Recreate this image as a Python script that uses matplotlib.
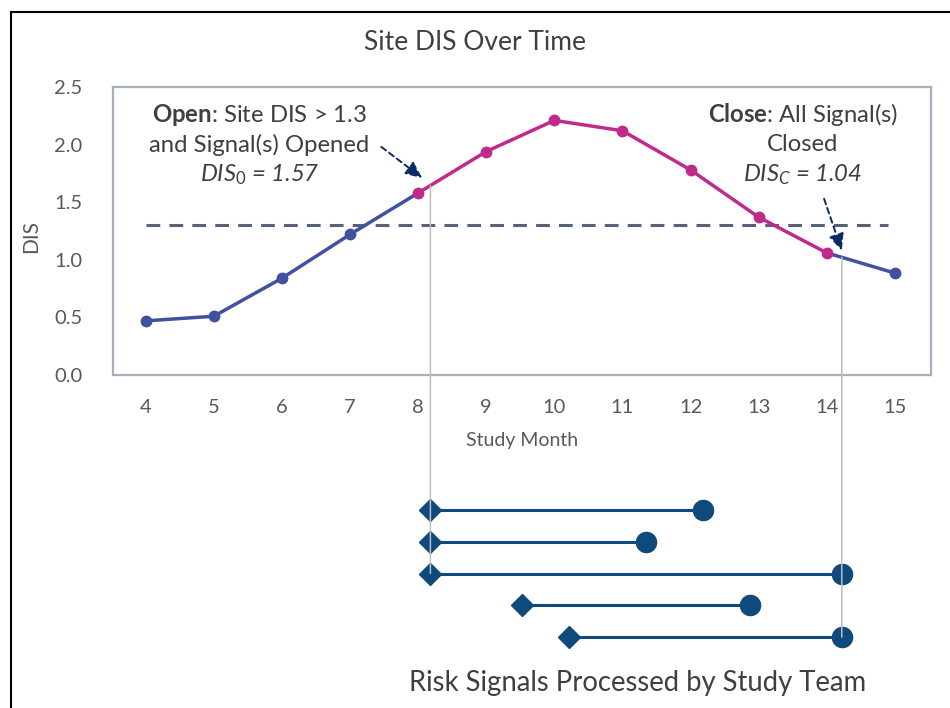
import numpy as np
import matplotlib
matplotlib.use("Agg")
import matplotlib.pyplot as plt
from matplotlib.lines import Line2D
from matplotlib.patches import ConnectionPatch

plt.rcParams['font.family'] = ['Lato', 'DejaVu Sans']
plt.rcParams['mathtext.fontset'] = 'custom'
plt.rcParams['mathtext.rm'] = 'Lato'
plt.rcParams['mathtext.it'] = 'Lato:italic'
plt.rcParams['mathtext.bf'] = 'Lato:bold'
plt.rcParams['mathtext.default'] = 'it'

# ---- data ----
months = [4, 5, 6, 7, 8, 9, 10, 11, 12, 13, 14, 15]
dis = [0.47, 0.51, 0.84, 1.22, 1.58, 1.94, 2.21, 2.12, 1.78, 1.37, 1.06, 0.885]
threshold = 1.3
open_month = 8
close_month = 14
open_x = 8.18
close_x = 14.22
signal_start = [8.18, 8.18, 8.18, 9.53, 10.22]
signal_end = [12.18, 11.34, 14.22, 12.87, 14.22]
signal_rows = [1, 2, 3, 4, 5]

BLUE = '#4151A0'
MAG = '#C02A8B'
NAVY = '#0E4A7C'
GRAY = '#595959'
TXT = '#3F3F3F'

W, H = 950, 708
fig = plt.figure(figsize=(W / 100, H / 100), dpi=100)

# main axes
ax = fig.add_axes([113 / W, (H - 375) / H, (931 - 113) / W, (375 - 87) / H])
ax.set_xlim(3.52, 15.53)
ax.set_ylim(0, 2.5)

m = np.array(months)
d = np.array(dis)
seg1 = m <= open_month
seg2 = (m >= open_month) & (m <= close_month)
seg3 = m >= close_month
ax.plot(m[seg1], d[seg1], color=BLUE, lw=2.5, solid_capstyle='round', zorder=3)
ax.plot(m[seg2], d[seg2], color=MAG, lw=2.5, solid_capstyle='round', zorder=3)
ax.plot(m[seg3], d[seg3], color=BLUE, lw=2.5, solid_capstyle='round', zorder=3)
blue_pts = (m < open_month) | (m > close_month)
ax.plot(m[blue_pts], d[blue_pts], 'o', color=BLUE, ms=7.5, zorder=4)
ax.plot(m[~blue_pts], d[~blue_pts], 'o', color=MAG, ms=7.5, zorder=4)

ax.plot([4, 14.9], [threshold, threshold], color='#56627A', lw=2.2,
        dashes=(4.5, 3.0), zorder=2)

for s in ax.spines.values():
    s.set_color('#A9AEBE')
    s.set_linewidth(1.6)
ax.set_xticks(months)
ax.set_yticks([0, 0.5, 1.0, 1.5, 2.0, 2.5])
ax.set_yticklabels(['0.0', '0.5', '1.0', '1.5', '2.0', '2.5'])
ax.tick_params(length=0, colors=GRAY, labelsize=14.5)
ax.tick_params(axis='x', pad=17)
ax.tick_params(axis='y', pad=22)
ax.set_xlabel('Study Month', color=GRAY, fontsize=14, labelpad=12)
ax.set_ylabel('DIS', color=GRAY, fontsize=15)
ax.yaxis.set_label_coords(-72 / 818, 0.48)

# annotations
fs = 17.2
ax.text(5.67, 2.26, r'$\mathbf{Open}$: Site DIS > 1.3', ha='center', va='center',
        fontsize=fs, color=TXT)
ax.text(5.67, 2.0, 'and Signal(s) Opened', ha='center', va='center',
        fontsize=fs, color=TXT)
ax.text(5.67, 1.74, r'$DIS_0$ = 1.57', ha='center', va='center',
        fontsize=fs, color=TXT, style='italic')
ax.text(13.65, 2.26, r'$\mathbf{Close}$: All Signal(s)', ha='center', va='center',
        fontsize=fs, color=TXT)
ax.text(13.65, 2.0, 'Closed', ha='center', va='center', fontsize=fs, color=TXT)
ax.text(13.65, 1.74, r'$DIS_C$ = 1.04', ha='center', va='center',
        fontsize=fs, color=TXT, style='italic')

ap = dict(arrowstyle='-|>,head_length=1.0,head_width=0.45', linestyle=(0, (3, 2)),
          color='#0B2A66', lw=1.4, shrinkA=0, shrinkB=0)
ax.annotate('', xy=(8.06, 1.71), xytext=(7.46, 1.98), arrowprops=ap, zorder=5)
ax.annotate('', xy=(14.22, 1.08), xytext=(13.96, 1.53), arrowprops=ap, zorder=5)

fig.suptitle('Site DIS Over Time', x=475 / W, y=(H - 42) / H, va='center',
             fontsize=19, color=TXT)

# gantt axes
gx = fig.add_axes([113 / W, (H - 653) / H, (931 - 113) / W, (653 - 494) / H])
gx.set_xlim(ax.get_xlim())
gx.set_ylim(5.5, 0.5)
gx.axis('off')
for s0, s1, r in zip(signal_start, signal_end, signal_rows):
    gx.plot([s0, s1], [r, r], color=NAVY, lw=2.2, zorder=3)
    gx.plot([s0], [r], 'D', color=NAVY, ms=11.5, zorder=4)
    gx.plot([s1], [r], 'o', color=NAVY, ms=14.5, zorder=4)

fig.text(638 / W, (H - 683) / H, 'Risk Signals Processed by Study Team',
         ha='center', va='center', fontsize=19.8, color=TXT)

# connecting vertical lines
y_open = np.interp(open_x, months, dis)
y_close = np.interp(close_x, months, dis)
for xv, yv, row in [(open_x, y_open, 3), (close_x, y_close, 5)]:
    cp = ConnectionPatch(xyA=(xv, yv), coordsA=ax.transData,
                         xyB=(xv, row), coordsB=gx.transData,
                         color='#BDBDBD', lw=1.1, zorder=1)
    fig.add_artist(cp)

# outer frame (left & top)
fig.add_artist(Line2D([11 / W, 11 / W], [0, (H - 12) / H], color='black', lw=1.5))
fig.add_artist(Line2D([11 / W, 1], [(H - 12) / H, (H - 12) / H], color='black', lw=1.5))

fig.savefig('out.png', dpi=100)
